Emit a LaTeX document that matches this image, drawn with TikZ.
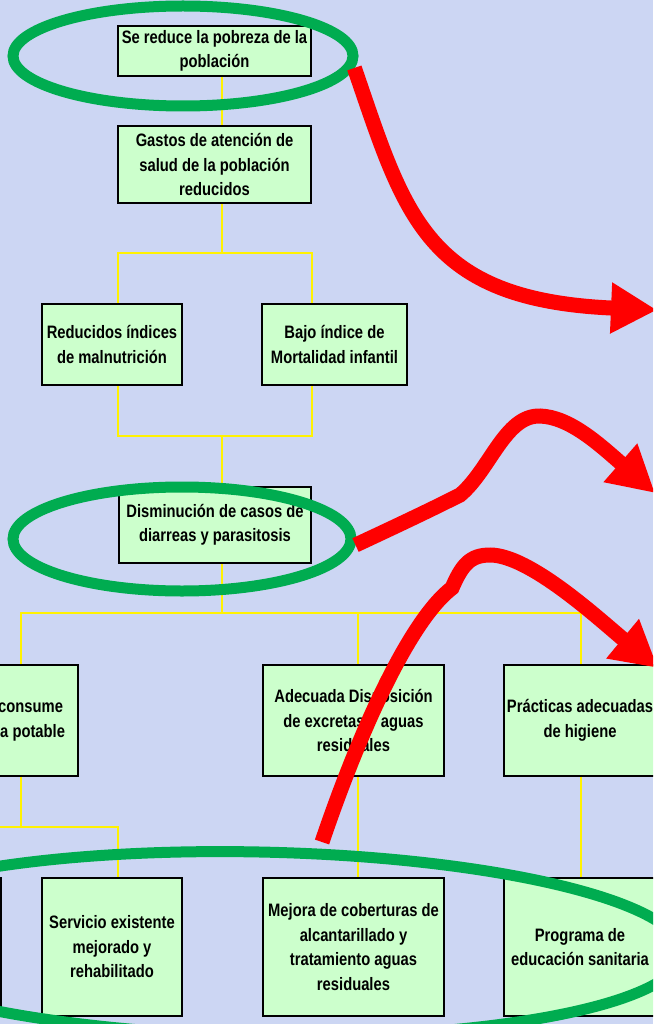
\documentclass[tikz,border=0pt]{standalone}
\usepackage{fontspec}
\setmainfont{Liberation Sans}[FakeStretch=0.82]
\usetikzlibrary{arrows.meta,shapes.geometric}
\definecolor{fondo}{RGB}{204,214,243}
\definecolor{verdecaja}{RGB}{204,255,204}
\definecolor{verdeanillo}{RGB}{0,172,80}

\begin{document}
\begin{tikzpicture}[x=1pt,y=-1pt] % one unit is one pixel of the slide, y grows downwards
\tikzset{caja/.style={draw=black, line width=2pt, fill=verdecaja, align=center, inner sep=0pt, font=\fontsize{18}{24.5}\selectfont\bfseries}} % light green boxes
\tikzset{linea/.style={draw=yellow, line width=2pt}} % yellow connectors
\tikzset{anillo/.style={draw=verdeanillo, ellipse, line width=11pt}} % green rings
\tikzset{flecha/.style={draw=red, line width=15pt, -{Triangle[length=46pt,width=48pt]}}} % big red arrows
\useasboundingbox (0,0) rectangle (653,1024);
\clip (0,0) rectangle (653,1024);
\fill[fondo] (0,0) rectangle (653,1024);

% top of the tree
\node[caja, minimum width=193pt, minimum height=50pt] (b1) at (214.5,51) {Se reduce la pobreza de la\\población};
\node[caja, minimum width=193pt, minimum height=77pt] (b2) at (214.5,164.5) {Gastos de atención de\\salud de la población\\reducidos};
\node[caja, minimum width=140pt, minimum height=81pt] (b3) at (112,344.5) {Reducidos índices\\de malnutrición};
\node[caja, minimum width=145pt, minimum height=81pt] (b4) at (334.5,344.5) {Bajo índice de\\Mortalidad infantil};
\node[caja, minimum width=192pt, minimum height=76pt] (b5) at (215,525) {Disminución de casos de\\diarreas y parasitosis};
% middle row
\node[caja, minimum width=117pt, minimum height=111pt] (m1) at (19.5,720.5) {Se consume\\agua potable};
\node[caja, minimum width=181pt, minimum height=111pt] (m2) at (353.5,720.5) {Adecuada Disposición\\de excretas y aguas\\residuales};
\node[caja, minimum width=152pt, minimum height=111pt] (m3) at (580,720.5) {Prácticas adecuadas\\de higiene};
% bottom row
\node[caja, minimum width=140pt, minimum height=138pt] (l0) at (-69,947) {};
\node[caja, minimum width=140pt, minimum height=138pt] (l1) at (112,947) {Servicio existente\\mejorado y\\rehabilitado};
\node[caja, minimum width=181pt, minimum height=138pt] (l2) at (353.5,947) {Mejora de coberturas de\\alcantarillado y\\tratamiento aguas\\residuales};
\node[caja, minimum width=152pt, minimum height=138pt] (l3) at (580,947) {Programa de\\educación sanitaria};

% junctions of the yellow lines
\coordinate (j1) at (222,253);
\coordinate (k3) at (118,253);
\coordinate (k4) at (312,253);
\coordinate (j2) at (222,436);
\coordinate (q3) at (118,436);
\coordinate (q4) at (312,436);
\coordinate (j3) at (222,613);
\coordinate (p1) at (21,613);
\coordinate (p2) at (358,613);
\coordinate (p3) at (581,613);
\coordinate (r0) at (-75,827);
\coordinate (r1) at (21,827);
\coordinate (r2) at (118,827);

\draw[linea] (b1.south -| j1) -- (b2.north -| j1);
\draw[linea] (b2.south -| j1) -- (j1);
\draw[linea] (b3.north -| k3) -- (k3) -- (k4) -- (b4.north -| k4);
\draw[linea] (b3.south -| q3) -- (q3) -- (q4) -- (b4.south -| q4);
\draw[linea] (j2) -- (b5.north -| j2);
\draw[linea] (b5.south -| j3) -- (j3);
\draw[linea] (m1.north -| p1) -- (p1) -- (p3) -- (m3.north -| p3);
\draw[linea] (p2) -- (m2.north -| p2);
\draw[linea] (m1.south -| r1) -- (r1);
\draw[linea] (l0.north -| r0) -- (r0) -- (r2) -- (l1.north -| r2);
\draw[linea] (m2.south -| p2) -- (l2.north -| p2);
\draw[linea] (m3.south -| p3) -- (l3.north -| p3);

% green rings
\node[anillo, minimum width=340pt, minimum height=100pt] (e1) at (183,56) {};
\node[anillo, minimum width=338pt, minimum height=104pt] (e2) at (182,539) {};
\node[anillo, minimum width=846pt, minimum height=184pt, rotate=-1.2] (e3) at (259,944) {};

% red arrows
\coordinate (s3) at (322,842);
\coordinate (t1) at (657,310);
\coordinate (t2) at (655,493);
\coordinate (t3) at (658,668);
\draw[flecha] (e1.-4) .. controls (405,215) and (425,300) .. (t1);
\draw[flecha] (e2.-2) .. controls (420,515) and (440,505) .. (460,495) .. controls (490,470) and (505,415) .. (540,416) .. controls (570,417) and (600,445) .. (t2);
\draw[flecha] (s3) .. controls (360,730) and (410,620) .. (452,588) .. controls (462,565) and (470,555) .. (490,555) .. controls (530,555) and (600,620) .. (t3);
\end{tikzpicture}
\end{document}
